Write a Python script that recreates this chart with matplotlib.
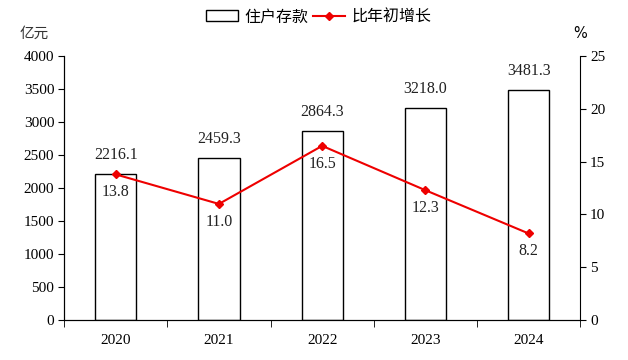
import matplotlib
matplotlib.use("Agg")
import matplotlib.pyplot as plt
from matplotlib.lines import Line2D
from matplotlib.patches import Patch
import numpy as np

plt.rcParams['font.family'] = ['Liberation Serif', 'Noto Sans CJK SC', 'DejaVu Sans']

years = ['2020', '2021', '2022', '2023', '2024']
deposits = [2216.1, 2459.3, 2864.3, 3218.0, 3481.3]
growth = [13.8, 11.0, 16.5, 12.3, 8.2]

fig = plt.figure(figsize=(6.28, 3.6), dpi=100)
ax = fig.add_axes([0.102, 0.111, 0.822, 0.733])
ax2 = ax.twinx()

x = np.arange(len(years))
ax.bar(x, deposits, width=0.4, facecolor='white', edgecolor='black', linewidth=1.0, zorder=2)
ax2.plot(x, growth, color='#ee0000', linewidth=1.5, marker='D', markersize=4.5,
         markerfacecolor='#ee0000', markeredgecolor='#ee0000', zorder=3)

ax.set_xlim(-0.5, len(years) - 0.5)
ax.set_ylim(0, 4000)
ax.set_yticks(np.arange(0, 4001, 500))
ax2.set_ylim(0, 25)
ax2.set_yticks(np.arange(0, 26, 5))

ax.set_xticks(x)
ax.set_xticklabels(years, fontsize=11)
ax.set_xticks(np.arange(-0.5, len(years), 1), minor=True)
ax.tick_params(axis='x', which='major', length=0, pad=10)
ax.tick_params(axis='x', which='minor', length=5, direction='out')
ax.tick_params(axis='y', length=4, direction='out', labelsize=11, pad=3)
ax2.tick_params(axis='y', length=4, direction='out', labelsize=11, pad=3)

for a in (ax, ax2):
    a.spines['top'].set_visible(False)
ax.spines['right'].set_visible(False)

for xi, v in zip(x, deposits):
    ax.annotate(f'{v:.1f}', (xi, v), xytext=(0, 8), textcoords='offset points',
                ha='center', va='bottom', fontsize=11.5, color='#222222')
for xi, v in zip(x, growth):
    ax2.annotate(f'{v:.1f}', (xi, v), xytext=(0, -7), textcoords='offset points',
                 ha='center', va='top', fontsize=11.5, color='#222222')

fig.text(0.055, 0.905, '亿元', fontsize=10.5, color='#333333', ha='center', va='center')
fig.text(0.923, 0.908, '%', fontsize=10.5, color='black', ha='center', va='center',
         family='DejaVu Sans')

handles = [Patch(facecolor='white', edgecolor='black', linewidth=1.0),
           Line2D([0], [0], color='#ee0000', linewidth=1.5, marker='D', markersize=4.5)]
fig.legend(handles, ['住户存款', '比年初增长'], loc='center', bbox_to_anchor=(0.508, 0.952),
           ncol=2, frameon=False, fontsize=11.5, handlelength=2.0, handleheight=0.7,
           columnspacing=0.3, handletextpad=0.4)

fig.savefig('out.png', dpi=100)
